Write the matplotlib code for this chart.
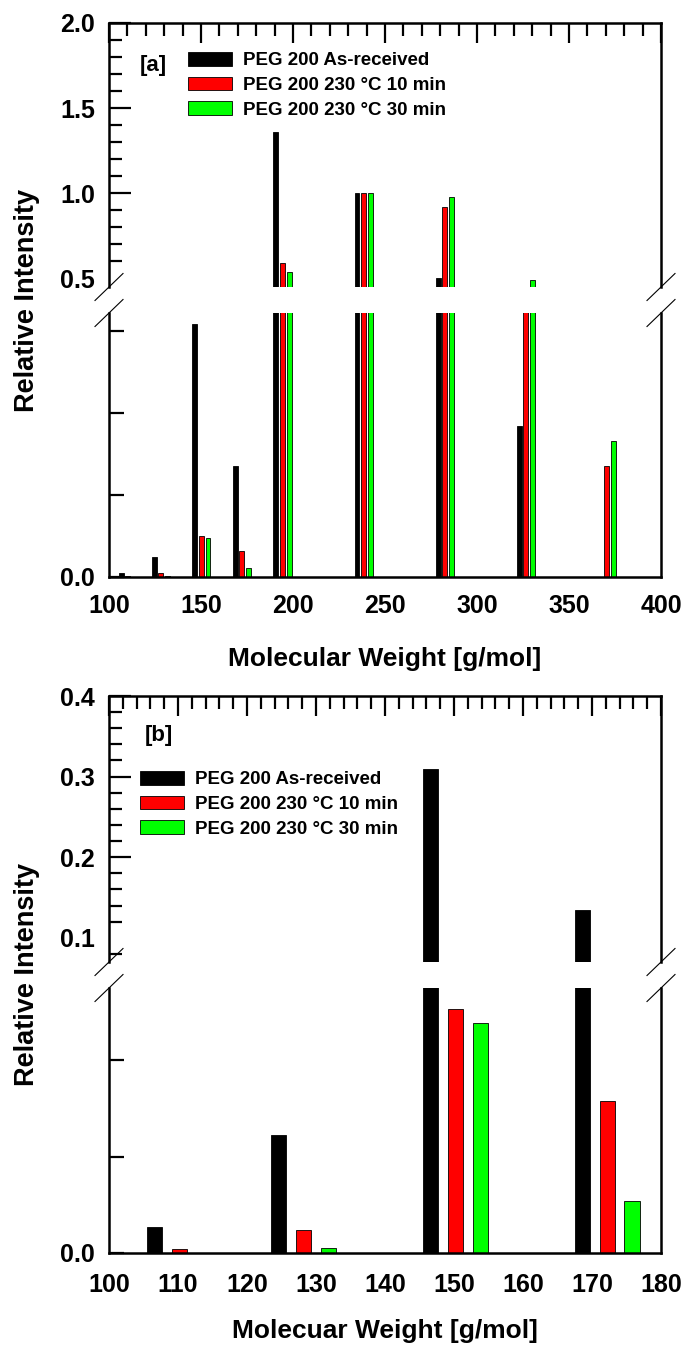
''' Relative intensity of PEG 200 fragments, as-received vs heated at 230 C
two panels with broken y axes: [a] full range, [b] zoom on 100-180 g/mol'''

import matplotlib.pyplot as plt

plt.rcParams['font.family'] = ['Liberation Sans', 'DejaVu Sans']
plt.rcParams['font.weight'] = 'bold'

# peak positions of the as-received sample [g/mol]
mw = [106.6, 124.6, 146.6, 168.6, 190.7, 234.8, 278.9, 322.9, 366.9]
# relative intensities
as_received = [0.0053, 0.0244, 0.309, 0.135, 1.36, 1.0, 0.505, 0.184, 0.0]
heat_10min = [0.0008, 0.0047, 0.0506, 0.0316, 0.59, 1.0, 0.92, 0.40, 0.135]
heat_30min = [0.0, 0.0011, 0.0478, 0.0107, 0.54, 1.0, 0.98, 0.49, 0.166]

series = [('PEG 200 As-received', as_received, 'black'),
          ('PEG 200 230 °C 10 min', heat_10min, '#ff0000'),
          ('PEG 200 230 °C 30 min', heat_30min, '#00ff00')]
shift = 3.6  # the heated samples sit a little to the right of each peak

W, H = 686, 1345
fig = plt.figure(figsize=(W / 100, H / 100), dpi=100)


def fx(px):
    return px / W


def fy(py):
    return 1 - py / H


def draw_bars(ax, width):
    bars = []
    for i, (name, vals, col) in enumerate(series):
        xs = [m + i * shift for m in mw]
        b = ax.bar(xs, vals, width=width, color=col, edgecolor='black',
                   linewidth=0.6, label=name)
        bars.append(b)
    return bars


def panel(top_px, mid_a, mid_b, bot_px, xlim, xmajor, xminor, up_lim, low_lim,
          up_major, up_minor, low_ticks, width, tag, tag_xy, leg_xy,
          xlabel, xlabel_y, xpad):
    left, right = 109, 661
    ax_up = fig.add_axes([fx(left), fy(mid_a), fx(right - left), (mid_a - top_px) / H])
    ax_lo = fig.add_axes([fx(left), fy(bot_px), fx(right - left), (bot_px - mid_b) / H])

    bars = draw_bars(ax_up, width)
    draw_bars(ax_lo, width)

    for ax in (ax_up, ax_lo):
        ax.set_xlim(*xlim)
        for s in ax.spines.values():
            s.set_linewidth(1.8)

    ax_up.set_ylim(*up_lim)
    ax_lo.set_ylim(*low_lim)
    ax_up.spines['bottom'].set_visible(False)
    ax_lo.spines['top'].set_visible(False)

    # upper part: ticks on top and left, pointing in
    ax_up.xaxis.set_ticks_position('top')
    ax_up.set_xticks(xmajor)
    ax_up.set_xticks(xminor, minor=True)
    ax_up.tick_params(axis='x', which='both', direction='in', labeltop=False,
                      labelbottom=False, width=1.6)
    ax_up.tick_params(axis='x', which='major', length=14.5)
    ax_up.tick_params(axis='x', which='minor', length=9)
    ax_up.yaxis.set_ticks_position('left')
    ax_up.set_yticks(up_major)
    ax_up.set_yticks(up_minor, minor=True)
    ax_up.tick_params(axis='y', which='both', direction='in', width=1.6,
                      labelsize=18, pad=10)
    ax_up.tick_params(axis='y', which='major', length=15.8)
    ax_up.tick_params(axis='y', which='minor', length=9)
    ax_up.set_yticklabels([f'{v:.1f}' for v in up_major])
    for t in ax_up.yaxis.get_major_ticks():
        if t.get_loc() < up_major[1] and up_major[0] - up_lim[0] < 0.06:
            t.tick1line.set_visible(False)

    # lower part: only "0.0" labelled, x labels without tick marks
    ax_lo.yaxis.set_ticks_position('left')
    ax_lo.set_yticks(low_ticks)
    ax_lo.set_yticklabels(['0.0'] + [''] * (len(low_ticks) - 1))
    ax_lo.tick_params(axis='y', direction='in', length=10.8, width=1.6,
                      labelsize=18, pad=10)
    ax_lo.set_xticks(xmajor)
    ax_lo.set_xticklabels([str(v) for v in xmajor])
    ax_lo.xaxis.set_ticks_position('bottom')
    ax_lo.tick_params(axis='x', length=0, labelsize=18, pad=xpad)

    # break marks on both sides
    for xp in (left, right):
        for yp in (mid_a, mid_b):
            fig.add_artist(plt.Line2D([fx(xp - 14), fx(xp + 14)],
                                      [fy(yp + 13.5), fy(yp - 13.5)],
                                      color='black', lw=0.8))

    fig.text(fx(tag_xy[0]), fy(tag_xy[1]), tag, fontsize=16,
             ha='center', va='center')
    fig.legend(handles=bars, loc='upper left',
               bbox_to_anchor=(fx(leg_xy[0]), fy(leg_xy[1])),
               frameon=False, fontsize=13.5, borderpad=0, borderaxespad=0,
               handlelength=2.35, handleheight=0.75, handletextpad=0.6,
               labelspacing=0.39)
    fig.text(fx((left + right) / 2), fy(xlabel_y), xlabel, fontsize=19,
             ha='center', va='baseline')
    fig.text(fx(27), fy((top_px + bot_px) / 2), 'Relative Intensity',
             fontsize=19.5, rotation=90, ha='center', va='center')


panel(23, 287, 313, 577, (100, 400), list(range(100, 401, 50)),
      list(range(100, 401, 10)), (0.45, 2.0), (0, 0.322),
      [0.5, 1.0, 1.5, 2.0], [round(0.5 + 0.1 * k, 1) for k in range(15)],
      [0, 0.1, 0.2, 0.3], 2.6, '[a]', (153, 65), (188, 52),
      'Molecular Weight [g/mol]', 666, 12)

panel(696, 962, 988, 1253, (100, 180), list(range(100, 181, 10)),
      list(range(100, 181, 2)), (0.07, 0.4), (0, 0.055),
      [0.1, 0.2, 0.3, 0.4], [round(0.08 + 0.02 * k, 2) for k in range(17)],
      [0, 0.02, 0.04], 2.2, '[b]', (159, 736), (140, 771),
      'Molecuar Weight [g/mol]', 1338, 14.5)

fig.savefig('out.png', dpi=100)
